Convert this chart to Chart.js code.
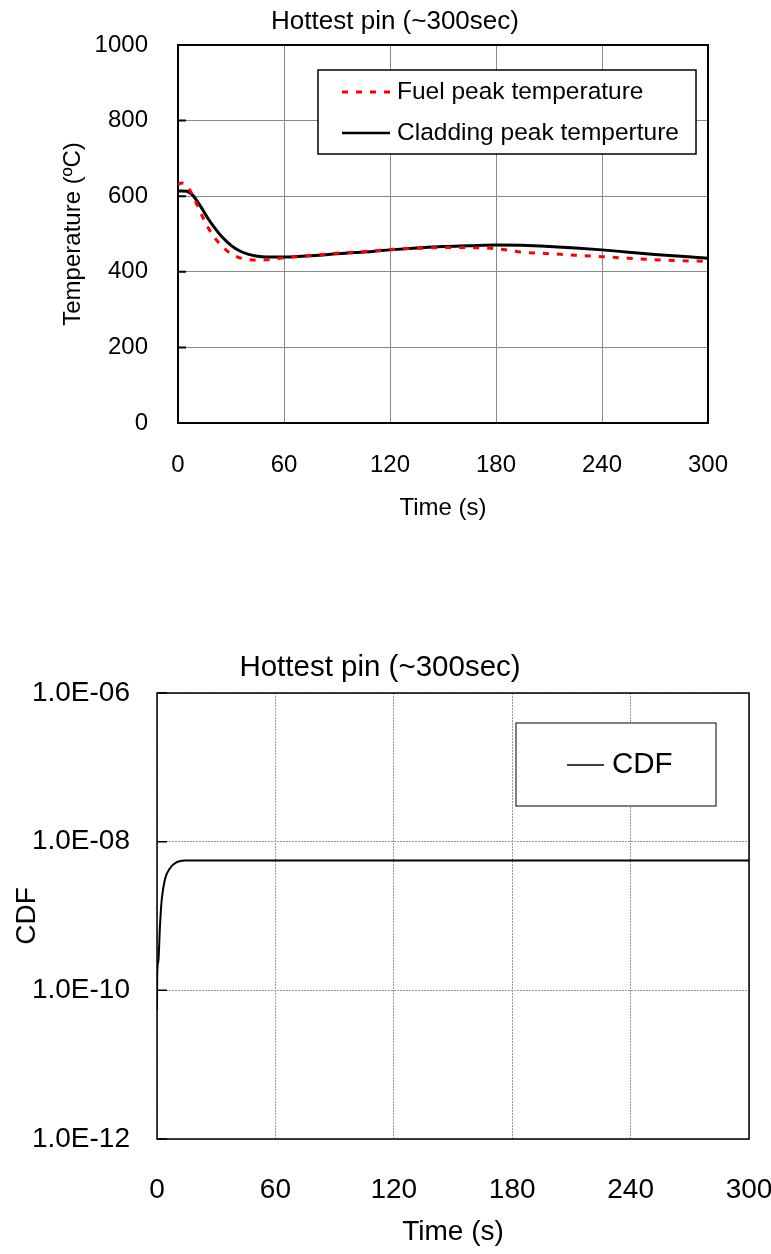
<!DOCTYPE html>
<html lang="en-US">
<head>
<meta charset="utf-8">
<title>Hottest pin (~300sec)</title>
<script src="https://cdn.jsdelivr.net/npm/chart.js@4.4.0/dist/chart.umd.min.js"></script>
<style>
  body { margin: 0; background: #fff; }
  canvas { display: block; }
</style>
</head>
<body>
<canvas id="tempChart" width="771" height="560"></canvas>
<canvas id="cdfChart" width="771" height="694"></canvas>
<script>
// --- temperature curves (top chart) ---
var timeSec  = [0, 2, 5, 8, 11, 14, 17, 20, 25, 30, 35, 40, 45, 50, 55, 60, 70, 80, 90, 100, 110, 120, 135, 150, 165, 180, 195, 210, 225, 240, 255, 270, 285, 300];
var fuelTemp = [630, 635, 628, 605, 575, 545, 517, 495, 467, 448, 437, 432, 431, 432, 434, 437, 441, 445, 449, 452, 455, 459, 462, 464, 464, 461, 452, 448, 444, 440, 436, 432, 429, 428];
var cladTemp = [614, 614, 613, 604, 586, 564, 541, 521, 492, 470, 455, 446, 441, 439, 439, 439, 441, 444, 448, 451, 454, 458, 463, 467, 469, 471, 470, 467, 463, 458, 452, 446, 441, 436];
var tempTicks = [0, 200, 400, 600, 800, 1000];
var timeTicks = [0, 60, 120, 180, 240, 300];

// --- CDF curve (bottom chart) ---
var cdfTime  = [0, 0.1, 0.7, 1.5, 2.4, 4, 6.6, 10, 14, 30, 60, 120, 180, 240, 300];
var cdfValue = [5.5e-11, 1.6e-10, 2.5e-10, 7.3e-10, 1.66e-9, 3.1e-9, 4.4e-9, 5.3e-9, 5.6e-9, 5.6e-9, 5.6e-9, 5.6e-9, 5.6e-9, 5.6e-9, 5.6e-9];
var cdfTicks = [1e-12, 1e-10, 1e-8, 1e-6];

var FONT = "'Liberation Sans', Arial, sans-serif";

function pts(xs, ys) {
  return xs.map(function(x, i) { return {x: x, y: ys[i]}; });
}

// 1.0E-06 style labels
function sciLabel(v) {
  var e = Math.round(Math.log10(v));
  var m = v / Math.pow(10, e);
  return m.toFixed(1) + 'E' + (e < 0 ? '-' : '+') + String(Math.abs(e)).padStart(2, '0');
}

function fixTicks(list) {
  return function(scale) {
    scale.ticks = list.map(function(v) { return {value: v}; });
  };
}

// box round the plot area, with short inner ticks on the left axis
var frameBox = {
  id: 'frameBox',
  beforeDatasetsDraw: function(chart, args, o) {
    var a = chart.chartArea, ctx = chart.ctx, ys = chart.scales.y;
    ctx.save();
    ctx.strokeStyle = o.color;
    ctx.lineWidth = o.width;
    ctx.strokeRect(a.left, a.top, a.right - a.left, a.bottom - a.top);
    ctx.beginPath();
    ys.ticks.forEach(function(t) {
      var y = ys.getPixelForValue(t.value);
      ctx.moveTo(a.left, y);
      ctx.lineTo(a.left + o.tickLen, y);
    });
    ctx.stroke();
    ctx.restore();
  }
};

// legend drawn as a white box inside the plot
var boxLegend = {
  id: 'boxLegend',
  afterDatasetsDraw: function(chart, args, o) {
    var ctx = chart.ctx;
    ctx.save();
    ctx.fillStyle = '#fff';
    ctx.fillRect(o.left, o.top, o.width, o.height);
    ctx.strokeStyle = '#000';
    ctx.lineWidth = o.borderWidth;
    ctx.strokeRect(o.left, o.top, o.width, o.height);
    ctx.font = o.fontSize + 'px ' + FONT;
    ctx.textBaseline = 'middle';
    ctx.textAlign = 'left';
    chart.data.datasets.forEach(function(ds, i) {
      var y = o.rows[i];
      ctx.beginPath();
      ctx.strokeStyle = ds.borderColor;
      ctx.lineWidth = o.lineWidths[i];
      ctx.setLineDash(ds.borderDash || []);
      ctx.moveTo(o.lineFrom, y);
      ctx.lineTo(o.lineTo, y);
      ctx.stroke();
      ctx.setLineDash([]);
      ctx.fillStyle = '#000';
      ctx.fillText(ds.label, o.textX, y);
    });
    ctx.restore();
  }
};

// put the chart title centre at a given x
var titleCenter = {
  id: 'titleCenter',
  afterLayout: function(chart, args, o) {
    var t = chart.titleBlock;
    if (!t) return;
    var w = t.right - t.left;
    t.left = o.x - w / 2;
    t.right = o.x + w / 2;
  }
};

window.onload = function() {

  new Chart(document.getElementById('tempChart').getContext('2d'), {
    type: 'line',
    data: {
      datasets: [{
        label: 'Fuel peak temperature',
        data: pts(timeSec, fuelTemp),
        borderColor: '#ff0000',
        borderWidth: 3,
        borderDash: [6, 8],
        pointRadius: 0,
        fill: false,
        cubicInterpolationMode: 'monotone'
      }, {
        label: 'Cladding peak temperture',
        data: pts(timeSec, cladTemp),
        borderColor: '#000000',
        borderWidth: 3,
        pointRadius: 0,
        fill: false,
        cubicInterpolationMode: 'monotone'
      }]
    },
    plugins: [frameBox, boxLegend, titleCenter],
    options: {
      responsive: false,
      animation: false,
      events: [],
      layout: { padding: { left: 0, right: 63, top: 0, bottom: 0 } },
      plugins: {
        legend: { display: false },
        tooltip: { enabled: false },
        title: {
          display: true,
          text: 'Hottest pin (~300sec)',
          color: '#000',
          font: { family: FONT, size: 26, weight: 'normal' },
          padding: { top: 6.4, bottom: 7.4 }
        },
        titleCenter: { x: 395 },
        frameBox: { color: '#000', width: 2, tickLen: 8 },
        boxLegend: {
          left: 318, top: 70, width: 378, height: 84,
          rows: [92, 133], lineFrom: 342, lineTo: 390, textX: 397,
          fontSize: 24.5, borderWidth: 1.5, lineWidths: [3, 2.5]
        }
      },
      scales: {
        x: {
          type: 'linear', min: 0, max: 300,
          afterBuildTicks: fixTicks(timeTicks),
          afterFit: function(s) { s.height = 137; s.paddingLeft = 0; s.paddingRight = 0; },
          grid: { color: '#8a8a8a', lineWidth: 1, drawTicks: false },
          border: { display: false },
          ticks: {
            padding: 27.6, color: '#000', maxRotation: 0, font: { family: FONT, size: 24 },
            callback: function(v) { return String(v); }
          },
          title: {
            display: true, text: 'Time (s)', color: '#000',
            font: { family: FONT, size: 24 }, padding: { top: 0, bottom: 37.6 }
          }
        },
        y: {
          min: 0, max: 1000,
          afterBuildTicks: fixTicks(tempTicks),
          afterFit: function(s) { s.width = 178; },
          grid: { color: '#8a8a8a', lineWidth: 1, drawTicks: false },
          border: { display: false },
          ticks: {
            padding: 30, color: '#000', font: { family: FONT, size: 24 },
            callback: function(v) { return String(v); }
          },
          title: {
            display: true, text: 'Temperature (\u00baC)', color: '#000',
            font: { family: FONT, size: 24 }, padding: { top: 58.6, bottom: 0 }
          }
        }
      }
    }
  });

  new Chart(document.getElementById('cdfChart').getContext('2d'), {
    type: 'line',
    data: {
      datasets: [{
        label: 'CDF',
        data: pts(cdfTime, cdfValue),
        borderColor: '#000000',
        borderWidth: 2,
        pointRadius: 0,
        fill: false,
        cubicInterpolationMode: 'monotone'
      }]
    },
    plugins: [frameBox, boxLegend, titleCenter],
    options: {
      responsive: false,
      animation: false,
      events: [],
      layout: { padding: { left: 0, right: 22, top: 0, bottom: 0 } },
      plugins: {
        legend: { display: false },
        tooltip: { enabled: false },
        title: {
          display: true,
          text: 'Hottest pin (~300sec)',
          color: '#000',
          font: { family: FONT, size: 29.5, weight: 'normal' },
          padding: { top: 90.3, bottom: 7.3 }
        },
        titleCenter: { x: 380 },
        frameBox: { color: '#000', width: 1.5, tickLen: 10 },
        boxLegend: {
          left: 516, top: 163, width: 200, height: 83,
          rows: [205], lineFrom: 567, lineTo: 604, textX: 612,
          fontSize: 29.5, borderWidth: 1, lineWidths: [1.5]
        }
      },
      scales: {
        x: {
          type: 'linear', min: 0, max: 300,
          afterBuildTicks: fixTicks(timeTicks),
          afterFit: function(s) { s.height = 115; s.paddingLeft = 0; s.paddingRight = 0; },
          grid: { color: '#9a9a9a', lineWidth: 1, drawTicks: false },
          border: { display: false, dash: [2, 1] },
          ticks: {
            padding: 34.2, color: '#000', maxRotation: 0, font: { family: FONT, size: 28 },
            callback: function(v) { return String(v); }
          },
          title: {
            display: true, text: 'Time (s)', color: '#000',
            font: { family: FONT, size: 28 }, padding: { top: 0, bottom: 5.2 }
          }
        },
        y: {
          type: 'logarithmic', min: 1e-12, max: 1e-6,
          afterBuildTicks: fixTicks(cdfTicks),
          afterFit: function(s) { s.width = 157; },
          grid: { color: '#9a9a9a', lineWidth: 1, drawTicks: false },
          border: { display: false, dash: [2, 1] },
          ticks: {
            padding: 27, color: '#000', font: { family: FONT, size: 28 },
            callback: function(v) { return sciLabel(v); }
          },
          title: {
            display: true, text: 'CDF', color: '#000',
            font: { family: FONT, size: 28 }, padding: { top: 10.2, bottom: 0 }
          }
        }
      }
    }
  });
};
</script>
</body>
</html>
